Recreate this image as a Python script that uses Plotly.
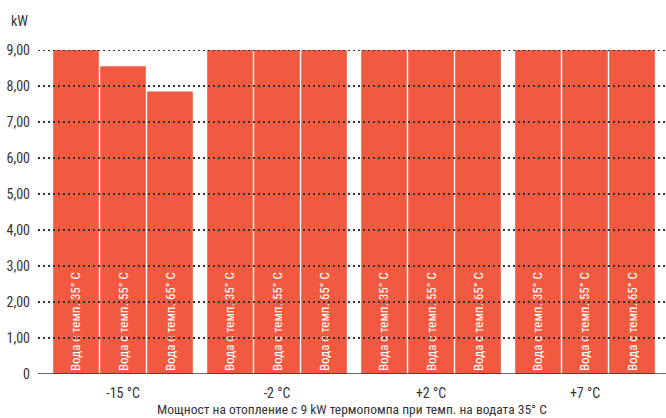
import plotly.graph_objects as go

# Outdoor temperatures (categories)
outdoor = ["-15 °C", "-2 °C", "+2 °C", "+7 °C"]

# Heating output (kW) per flow-water temperature
water_35 = [9.00, 9.00, 9.00, 9.00]
water_55 = [8.55, 9.00, 9.00, 9.00]
water_65 = [7.85, 9.00, 9.00, 9.00]

series_labels = ["Вода с темп. 35° C", "Вода с темп. 55° C", "Вода с темп. 65° C"]
series_values = [water_35, water_55, water_65]

y_ticks = [0, 1, 2, 3, 4, 5, 6, 7, 8, 9]
y_tick_text = ["0", "1,00", "2,00", "3,00", "4,00", "5,00", "6,00", "7,00", "8,00", "9,00"]

FONT = "Roboto Condensed"
BAR = "#F15A40"
INK = "#333333"


def font(size, color=INK):
    return dict(family=FONT, size=size, color=color)


fig = go.Figure()
for label, vals in zip(series_labels, series_values):
    fig.add_trace(go.Bar(
        x=outdoor, y=vals, name=label,
        marker=dict(color=BAR, line=dict(width=0)),
        text=[label] * len(vals),
        textposition="inside", insidetextanchor="start", textangle=-90,
        textfont=font(13, "white"),
        constraintext="none",
        cliponaxis=False,
    ))

# dotted grid drawn over the bars
for v in y_ticks[1:]:
    fig.add_shape(type="line", xref="paper", yref="y", x0=0, x1=1, y0=v, y1=v,
                  line=dict(color=INK, width=2, dash="2px,3px"), layer="above")
# baseline
fig.add_shape(type="line", xref="paper", yref="y", x0=0, x1=1, y0=0, y1=0,
              line=dict(color=INK, width=1.5), layer="above")

fig.add_annotation(text="kW", xref="paper", yref="paper", x=-0.046, y=1.09,
                   xanchor="left", yanchor="middle", showarrow=False,
                   font=font(14))

fig.update_layout(
    width=666, height=418,
    margin=dict(l=38, r=0, t=50, b=44),
    paper_bgcolor="white", plot_bgcolor="white",
    barmode="group", bargap=0.084, bargroupgap=0.03,
    showlegend=False,
    font=font(14),
    xaxis=dict(
        range=[-0.552, 3.526], showgrid=False, showline=False, zeroline=False,
        ticks="", tickfont=font(14), ticklabelstandoff=9,
        title=dict(text="Мощност на отопление с 9 kW термопомпа при темп. на водата 35° C",
                   font=font(13.5), standoff=2),
    ),
    yaxis=dict(
        range=[0, 9], tickvals=y_ticks, ticktext=y_tick_text,
        showgrid=False, zeroline=False, showline=False, ticks="",
        ticklabelstandoff=7,
        tickfont=font(14),
    ),
)

fig.write_html("out.html")
